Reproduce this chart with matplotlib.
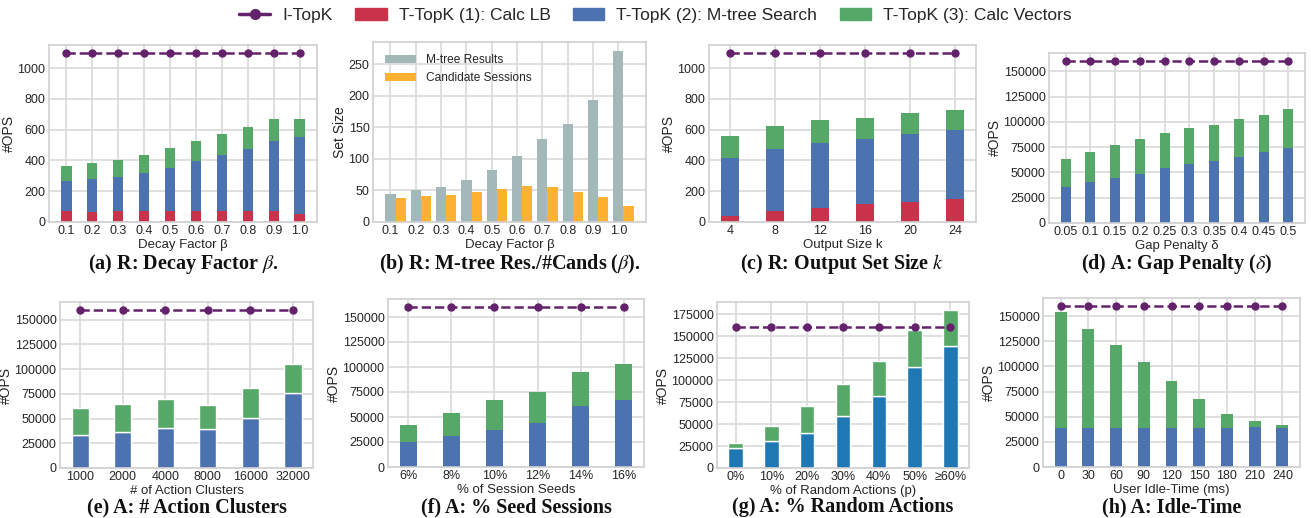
import matplotlib
matplotlib.use("Agg")
import matplotlib.pyplot as plt
import numpy as np
from matplotlib.lines import Line2D
from matplotlib.patches import Patch
from matplotlib.ticker import MultipleLocator

plt.style.use("seaborn-v0_8-whitegrid")
plt.rcParams["font.family"] = ["Liberation Sans", "DejaVu Sans"]
plt.rcParams["mathtext.fontset"] = "stix"

RED = "#c8334b"
BLUE = "#4c72b0"
GREEN = "#55a868"
PURPLE = "#63226b"
TAB_BLUE = "#1f77b4"
GRAY = "#a3b8b8"
ORANGE = "#ffb232"

# (a) R: decay factor beta
beta_labels = ["0.1", "0.2", "0.3", "0.4", "0.5", "0.6", "0.7", "0.8", "0.9", "1.0"]
a_lb = [70, 66, 70, 70, 70, 70, 70, 70, 70, 52]
a_mtree = [196, 213, 223, 249, 284, 323, 362, 406, 454, 503]
a_vec = [99, 105, 111, 118, 129, 135, 142, 144, 142, 117]
a_itopk = [1095] * 10

# (b) R: m-tree results / candidates
b_mtree_res = [44, 50, 56, 67, 83, 105, 131, 155, 193, 272]
b_cands = [38, 41, 43, 48, 52, 57, 55, 47, 40, 25]

# (c) R: output set size k
k_labels = ["4", "8", "12", "16", "20", "24"]
c_lb = [41, 72, 94, 120, 133, 151]
c_mtree = [372, 402, 419, 419, 437, 445]
c_vec = [144, 148, 149, 136, 137, 131]
c_itopk = [1095] * 6

# (d) A: gap penalty delta
delta_labels = ["0.05", "0.1", "0.15", "0.2", "0.25", "0.3", "0.35", "0.4", "0.45", "0.5"]
d_mtree = [35800, 40800, 44800, 48800, 54800, 58700, 61700, 65700, 69700, 73700]
d_vec = [27900, 29600, 32500, 33800, 34500, 35600, 35500, 37500, 37500, 38500]
d_itopk = [160000] * 10

# (e) A: number of action clusters
cluster_labels = ["1000", "2000", "4000", "8000", "16000", "32000"]
e_mtree = [33600, 36000, 40400, 39000, 51000, 76000]
e_vec = [27600, 28900, 29900, 24600, 29700, 29000]
e_itopk = [160000] * 6

# (f) A: % seed sessions
seed_labels = ["6%", "8%", "10%", "12%", "14%", "16%"]
f_mtree = [25200, 31200, 37200, 44100, 61100, 67000]
f_vec = [16300, 22900, 29800, 30900, 33800, 35900]
f_itopk = [160000] * 6

# (g) A: % random actions
random_labels = ["0%", "10%", "20%", "30%", "40%", "50%", "\u226560%"]
g_mtree = [22300, 30300, 39400, 59100, 81400, 115100, 138300]
g_vec = [6100, 17800, 31400, 36000, 39800, 41700, 41600]
g_itopk = [160000] * 7

# (h) A: idle time
idle_labels = ["0", "30", "60", "90", "120", "150", "180", "210", "240"]
h_mtree = [39200, 39200, 39200, 39200, 39200, 39200, 39200, 40200, 39200]
h_vec = [114500, 97500, 81600, 64700, 46700, 28800, 13900, 5900, 2900]
h_itopk = [160000] * 9

W, H = 1311, 518
fig = plt.figure(figsize=(W / 100, H / 100), dpi=100)


def add_ax(left, right, top, bottom):
    return fig.add_axes([left / W, 1 - bottom / H, (right - left) / W, (bottom - top) / H])


def style_ax(ax, xlabel, step, ylabel="#OPS"):
    ax.set_xlabel(xlabel, fontsize=9.5, labelpad=1, color="#262626")
    ax.set_ylabel(ylabel, fontsize=10, labelpad=1, color="#262626")
    ax.yaxis.set_major_locator(MultipleLocator(step))
    ax.tick_params(labelsize=9, pad=2.5, colors="#262626")
    for s in ax.spines.values():
        s.set_color("#d0d0d0")
        s.set_linewidth(1.2)
    ax.grid(color="#d9d9d9", linewidth=1.2)
    ax.set_axisbelow(True)


def stacked(ax, labels, parts, colors, itopk, width=0.4, edge=None):
    x = np.arange(len(labels))
    bottom = np.zeros(len(labels))
    for vals, c in zip(parts, colors):
        vals = np.asarray(vals, dtype=float)
        ax.bar(x, vals, width, bottom=bottom, color=c,
               edgecolor=edge if edge else c, linewidth=1.0 if edge else 0)
        bottom += vals
    ax.plot(x, itopk, "--o", color=PURPLE, lw=1.8, ms=5, zorder=5)
    ax.set_xticks(x, labels)


def caption(ax, text, y_px):
    pos = ax.get_position()
    fig.text((pos.x0 + pos.x1) / 2, 1 - y_px / H, text, ha="center", va="center",
             fontsize=14.5, fontweight="bold", family="Liberation Serif", color="#111111")


# top row
ax = add_ax(49, 317, 45, 222)
stacked(ax, beta_labels, [a_lb, a_mtree, a_vec], [RED, BLUE, GREEN], a_itopk)
style_ax(ax, "Decay Factor \u03b2", 200)
caption(ax, r"(a) R: Decay Factor $\beta$.", 264)

ax = add_ax(373, 646, 42, 222)
xb = np.arange(len(beta_labels))
ax.bar(xb, b_mtree_res, 0.4, color=GRAY, label="M-tree Results")
ax.bar(xb + 0.4, b_cands, 0.4, color=ORANGE, label="Candidate Sessions")
ax.set_xticks(xb, beta_labels)
style_ax(ax, "Decay Factor \u03b2", 50, ylabel="Set Size")
ax.legend(loc="upper left", fontsize=8.6, frameon=False, handlelength=2.6,
          borderaxespad=0.6)
caption(ax, r"(b) R: M-tree Res./#Cands ($\beta$).", 264)

ax = add_ax(709, 976, 45, 222)
stacked(ax, k_labels, [c_lb, c_mtree, c_vec], [RED, BLUE, GREEN], c_itopk)
style_ax(ax, "Output Size k", 200)
caption(ax, r"(c) R: Output Set Size $k$", 264)

ax = add_ax(1049, 1305, 53, 223)
stacked(ax, delta_labels, [d_mtree, d_vec], [BLUE, GREEN], d_itopk)
style_ax(ax, "Gap Penalty \u03b4", 25000)
caption(ax, r"(d) A: Gap Penalty ($\delta$)", 264)

# bottom row
ax = add_ax(60, 313, 302, 468)
stacked(ax, cluster_labels, [e_mtree, e_vec], [BLUE, GREEN], e_itopk, edge="white")
style_ax(ax, "# of Action Clusters", 25000)
caption(ax, "(e) A: # Action Clusters", 507)

ax = add_ax(388, 644, 299, 467)
stacked(ax, seed_labels, [f_mtree, f_vec], [BLUE, GREEN], f_itopk)
style_ax(ax, "% of Session Seeds", 25000)
caption(ax, "(f) A: % Seed Sessions", 507)

ax = add_ax(717, 969, 302, 468)
stacked(ax, random_labels, [g_mtree, g_vec], [TAB_BLUE, GREEN], g_itopk, edge="white")
style_ax(ax, "% of Random Actions (p)", 25000)
caption(ax, "(g) A: % Random Actions", 507)

ax = add_ax(1043, 1300, 298, 467)
stacked(ax, idle_labels, [h_mtree, h_vec], [BLUE, GREEN], h_itopk, width=0.43)
style_ax(ax, "User Idle-Time (ms)", 25000)
caption(ax, "(h) A: Idle-Time", 507)

handles = [
    Line2D([0], [0], color=PURPLE, lw=2.5, marker="o", ms=7),
    Patch(color=RED),
    Patch(color=BLUE),
    Patch(color=GREEN),
]
names = ["I-TopK", "T-TopK (1): Calc LB", "T-TopK (2): M-tree Search", "T-TopK (3): Calc Vectors"]
fig.legend(handles, names, loc="upper center", bbox_to_anchor=(0.5, 1.015), ncol=4,
           fontsize=12.5, frameon=False, handlelength=1.8, handletextpad=0.7,
           columnspacing=1.3)

fig.savefig("out.png", dpi=100)
